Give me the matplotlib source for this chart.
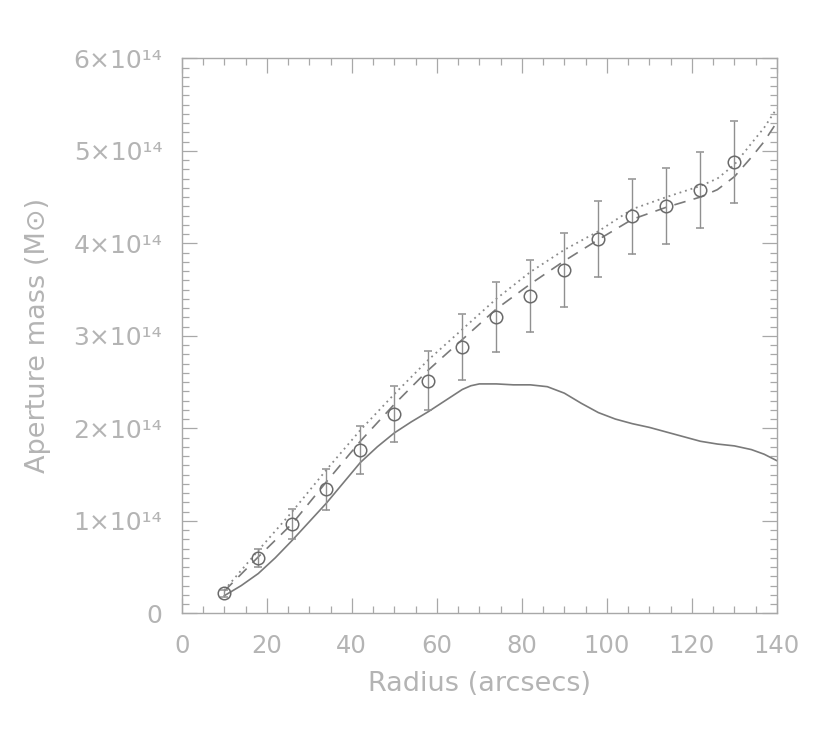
import matplotlib
matplotlib.use("Agg")
import matplotlib.pyplot as plt
from matplotlib.ticker import MultipleLocator, FixedLocator

# ---- data (masses in units of 1e14 Msun) ----
r_pts = [10, 18, 26, 34, 42, 50, 58, 66, 74, 82, 90, 98, 106, 114, 122, 130]
m_pts = [0.216, 0.60, 0.965, 1.34, 1.765, 2.155, 2.515, 2.88, 3.20, 3.43, 3.71, 4.05, 4.29, 4.40, 4.58, 4.88]
m_err = [0.04, 0.10, 0.16, 0.22, 0.26, 0.30, 0.32, 0.36, 0.38, 0.39, 0.40, 0.41, 0.41, 0.41, 0.41, 0.44]

r_solid = [10, 14, 18, 22, 26, 30, 34, 38, 42, 46, 50, 54, 58, 62, 66, 68, 70, 74, 78, 82, 86,
           90, 94, 98, 102, 106, 110, 114, 118, 122, 126, 130, 134, 137, 140]
m_solid = [0.19, 0.30, 0.43, 0.60, 0.79, 0.99, 1.19, 1.41, 1.63, 1.80, 1.95, 2.07, 2.18, 2.30, 2.42,
           2.46, 2.48, 2.48, 2.47, 2.47, 2.45, 2.38, 2.27, 2.17, 2.10, 2.05, 2.01, 1.96, 1.91,
           1.86, 1.83, 1.81, 1.77, 1.72, 1.65]

r_dash = [10, 18, 26, 34, 42, 50, 58, 66, 74, 82, 90, 98, 106, 114, 122, 126, 130, 134, 137, 140]
m_dash = [0.24, 0.61, 0.97, 1.42, 1.86, 2.26, 2.63, 2.96, 3.29, 3.56, 3.81, 4.04, 4.26, 4.39,
          4.50, 4.58, 4.72, 4.93, 5.10, 5.31]

r_dot = [10, 18, 26, 34, 42, 50, 58, 66, 74, 82, 90, 98, 106, 114, 122, 126, 130, 134, 137, 140]
m_dot = [0.25, 0.68, 1.10, 1.55, 1.98, 2.37, 2.74, 3.07, 3.40, 3.69, 3.93, 4.13, 4.37, 4.50,
         4.62, 4.70, 4.85, 5.08, 5.25, 5.46]

x_ticks = [0, 20, 40, 60, 80, 100, 120, 140]
y_ticks = [0, 1, 2, 3, 4, 5, 6]
y_labels = ["0", "1×10¹⁴", "2×10¹⁴", "3×10¹⁴", "4×10¹⁴", "5×10¹⁴", "6×10¹⁴"]

# ---- style ----
TXT = "#b4b4b4"
AX = "#a8a8a8"
LN = "#7a7a7a"

plt.rcParams['font.family'] = ['DejaVu Sans']

fig = plt.figure(figsize=(8.30, 7.29), dpi=100)
ax = fig.add_axes([0.219, 0.1587, 0.717, 0.7613])

ax.plot(r_solid, m_solid, color=LN, lw=1.2, ls='-')
ax.plot(r_dash, m_dash, color=LN, lw=1.2, ls=(0, (7, 5)))
ax.plot(r_dot, m_dot, color="#8a8a8a", lw=1.3, ls=(0, (1, 2.2)))
ax.errorbar(r_pts, m_pts, yerr=m_err, fmt='o', mfc='none', mec='#6a6a6a', mew=1.1, ms=9,
            ecolor='#909090', elinewidth=1.0, capsize=3, capthick=1.0)

ax.set_xlim(0, 140)
ax.set_ylim(0, 6)
ax.xaxis.set_major_locator(FixedLocator(x_ticks))
ax.xaxis.set_minor_locator(MultipleLocator(5))
ax.yaxis.set_major_locator(FixedLocator(y_ticks))
ax.yaxis.set_minor_locator(MultipleLocator(0.1))
ax.set_xticklabels([str(t) for t in x_ticks])
ax.set_yticklabels(y_labels)

for s in ax.spines.values():
    s.set_color(AX)
    s.set_linewidth(1.0)
ax.tick_params(which='both', direction='in', top=True, right=True, color=AX, width=0.9)
ax.tick_params(which='major', length=11)
ax.tick_params(which='minor', length=5)
ax.tick_params(axis='x', which='major', labelsize=17.5, labelcolor=TXT, pad=15)
ax.tick_params(axis='y', which='major', labelsize=18, labelcolor=TXT, pad=14)

ax.set_xlabel("Radius (arcsecs)", fontsize=19.5, color=TXT, labelpad=9)
ax.set_ylabel("Aperture mass (M⊙)", fontsize=19.5, color=TXT, labelpad=16)

fig.savefig("out.png", dpi=100, facecolor='white')
